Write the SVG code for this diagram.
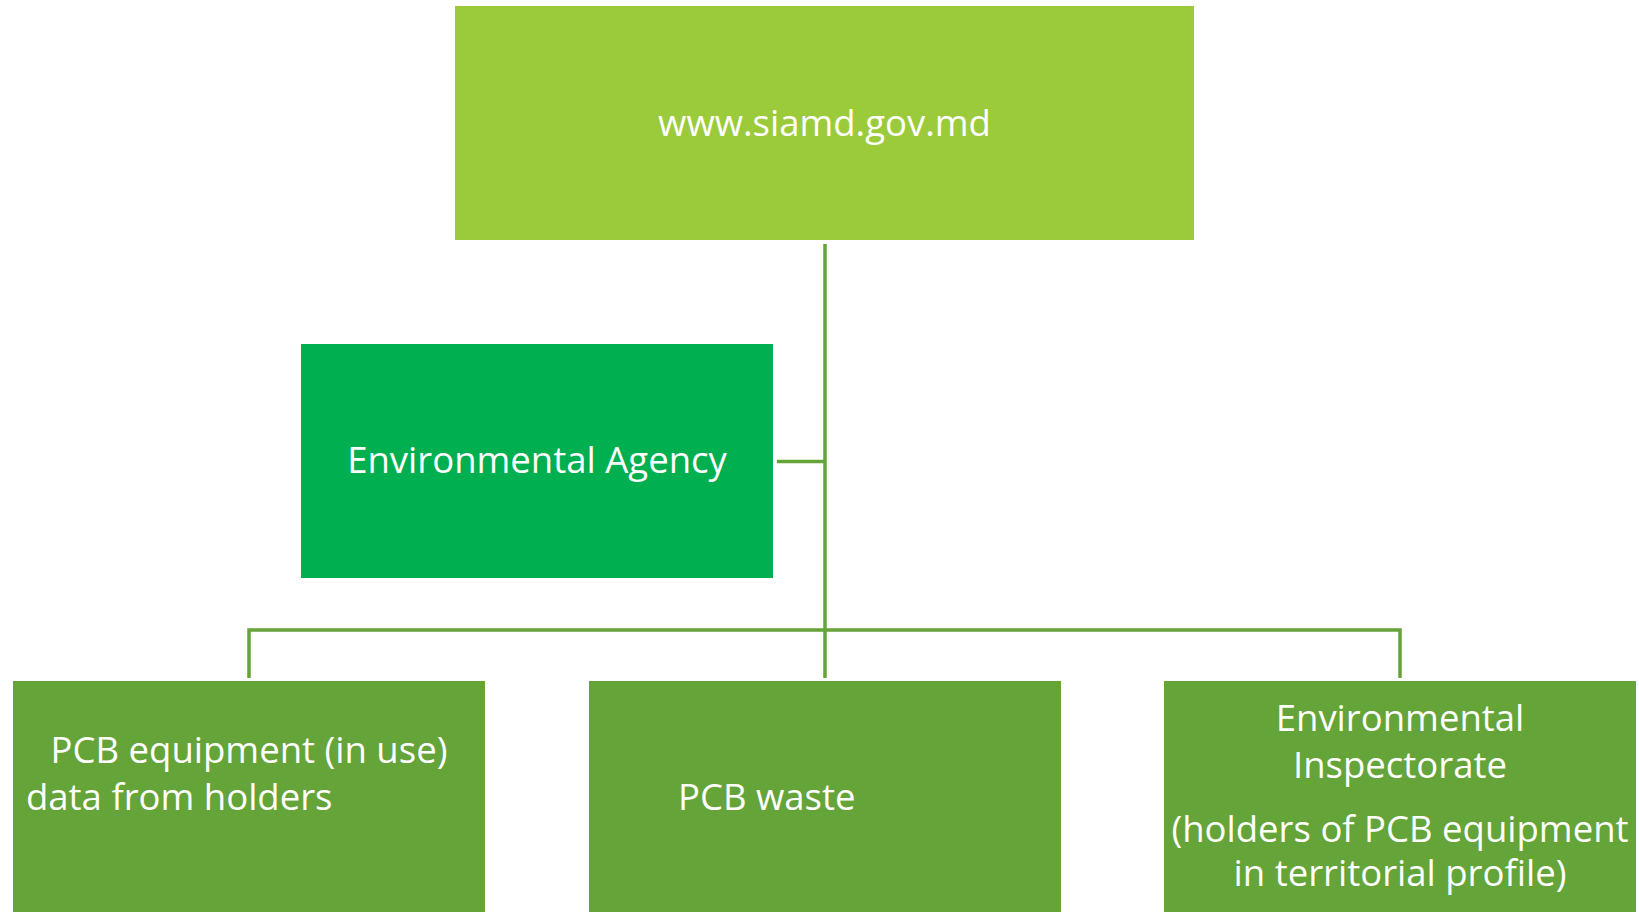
<svg xmlns="http://www.w3.org/2000/svg" width="1639" height="912" viewBox="0 0 1639 912">
<style>
.lbl{font-family:"Open Sans","Noto Sans","Liberation Sans",sans-serif;font-size:36.5px;fill:#ffffff}
.c{text-anchor:middle}
.conn{stroke:#64A438;stroke-width:3.5;fill:none}
.leaf{fill:#64A438}
</style>
<rect width="1639" height="912" fill="#ffffff"/>
<g id="connectors">
<line class="conn" x1="825" y1="244" x2="825" y2="678"/>
<line class="conn" x1="777" y1="461.5" x2="825" y2="461.5"/>
<polyline class="conn" points="249,678 249,630 1400,630 1400,678"/>
</g>
<g id="node-top">
<rect x="455" y="6" width="739" height="234" fill="#9BCB3A"/>
<text class="lbl c" x="824.5" y="136">www.siamd.gov.md</text>
</g>
<g id="node-agency">
<rect x="301" y="344" width="472" height="234" fill="#00B050"/>
<text class="lbl c" x="537" y="473">Environmental Agency</text>
</g>
<g id="node-equipment">
<rect class="leaf" x="13" y="681" width="472" height="240"/>
<text class="lbl c" x="249" y="763">PCB equipment (in use)</text>
<text class="lbl" x="26" y="810">data from holders</text>
</g>
<g id="node-waste">
<rect class="leaf" x="589" y="681" width="472" height="240"/>
<text class="lbl" x="678" y="810">PCB waste</text>
</g>
<g id="node-inspectorate">
<rect class="leaf" x="1164" y="681" width="472" height="240"/>
<text class="lbl c" x="1400" y="731">Environmental</text>
<text class="lbl c" x="1400" y="778">Inspectorate</text>
<text class="lbl c" x="1400" y="842">(holders of PCB equipment</text>
<text class="lbl c" x="1400" y="886">in territorial profile)</text>
</g>
</svg>
